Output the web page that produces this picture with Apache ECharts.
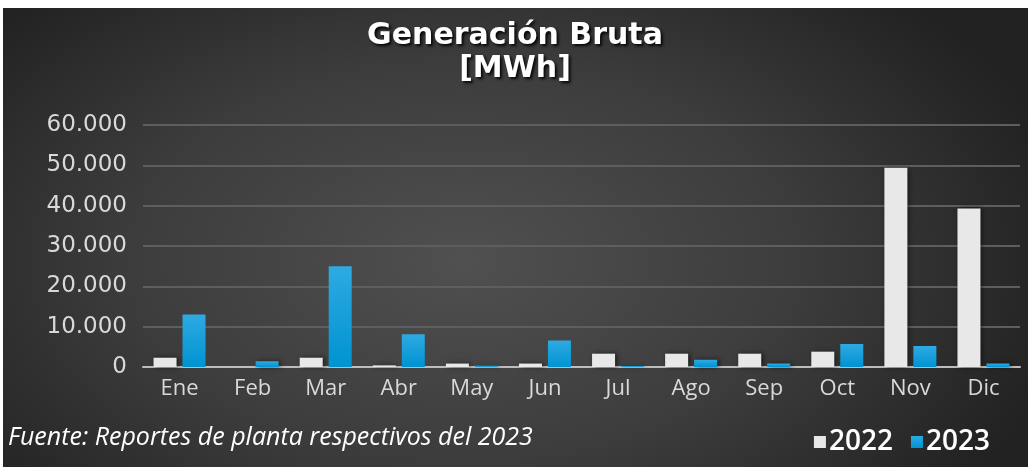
<!DOCTYPE html>
<html>
<head>
<meta charset="utf-8">
<script src="https://cdn.jsdelivr.net/npm/echarts@6/dist/echarts.min.js"></script>
<style>
  html, body { margin: 0; padding: 0; background: #ffffff; }
  #bg {
    position: absolute; left: 3px; top: 8px; width: 1025px; height: 459px;
    background: radial-gradient(ellipse 60% 80% at 45% 55%, #505050 0%, #3c3c3c 55%, #222222 100%);
  }
  #Gen_Chart { position: absolute; left: 0; top: 0; width: 1030px; height: 467px; }
</style>
</head>
<body>
<div id="bg"></div>
<div id="Gen_Chart"></div>
<script>
  // 데이터
  var months = ['Ene', 'Feb', 'Mar', 'Abr', 'May', 'Jun', 'Jul', 'Ago', 'Sep', 'Oct', 'Nov', 'Dic'];
  var gen2022 = [2300, 0, 2300, 400, 850, 850, 3300, 3300, 3300, 3800, 49400, 39300];
  var gen2023 = [13000, 1400, 25000, 8100, 300, 6600, 250, 1800, 850, 5700, 5200, 850];
  var yTicks = [0, 10000, 20000, 30000, 40000, 50000, 60000];

  // 천 단위 구분 (점)
  function fmtNum(v) {
    return String(v).replace(/\B(?=(\d{3})+(?!\d))/g, '.');
  }

  function GenBrutaChart() {
    var dom = document.getElementById('Gen_Chart');
    var myChart = echarts.init(dom, null, {
      renderer: 'canvas',
      useDirtyRect: false
    });
    var option = {
      backgroundColor: 'transparent',
      title: {
        text: 'Generación Bruta\n[MWh]',
        left: 'center',
        top: 15,
        textStyle: {
          color: '#ffffff',
          fontFamily: 'DejaVu Sans',
          fontWeight: 'bold',
          fontSize: 30,
          lineHeight: 33,
          textShadowColor: 'rgba(0,0,0,0.9)',
          textShadowBlur: 3,
          textShadowOffsetX: 2,
          textShadowOffsetY: 2
        }
      },
      legend: {
        data: ['2022', '2023'],
        right: 35,
        top: 423,
        icon: 'rect',
        itemWidth: 12,
        itemHeight: 12,
        itemGap: 18,
        textStyle: {
          color: '#ffffff',
          fontFamily: 'Open Sans',
          fontWeight: 600,
          fontSize: 28,
          padding: [0, 0, 0, -2]
        }
      },
      grid: {
        top: 125, // 상단 여백
        bottom: 100, // 하단 여백
        left: 143, // 좌측 여백
        right: 10 // 우측 여백
      },
      xAxis: {
        type: 'category',
        data: months,
        axisLine: { lineStyle: { color: '#bdbdbd', width: 2 } },
        axisTick: { show: false },
        axisLabel: {
          color: '#d9d9d9',
          fontFamily: 'Open Sans',
          fontSize: 22,
          margin: 11
        }
      },
      yAxis: {
        type: 'value',
        min: yTicks[0],
        max: yTicks[yTicks.length - 1],
        interval: 10000,
        axisLine: { show: false },
        axisTick: { show: false },
        splitLine: { lineStyle: { color: '#5e5e5e', width: 2 } },
        axisLabel: {
          color: '#d9d9d9',
          fontFamily: 'DejaVu Sans',
          fontSize: 23,
          margin: 16,
          formatter: function (v) { return fmtNum(v); }
        }
      },
      series: [{
          name: '2022',
          type: 'bar',
          data: gen2022,
          barWidth: 23,
          barGap: '26%',
          itemStyle: {
            color: '#e8e8e8',
            shadowColor: 'rgba(0,0,0,0.6)',
            shadowBlur: 5,
            shadowOffsetX: 2
          }
        },
        {
          name: '2023',
          type: 'bar',
          data: gen2023,
          barWidth: 23,
          itemStyle: {
            color: new echarts.graphic.LinearGradient(0, 0, 0, 1, [
              { offset: 0, color: '#2eaae2' },
              { offset: 1, color: '#0093d2' }
            ]),
            shadowColor: 'rgba(0,0,0,0.6)',
            shadowBlur: 5,
            shadowOffsetX: 2
          }
        }
      ],
      graphic: [{
        type: 'text',
        left: 8,
        top: 425,
        style: {
          text: 'Fuente: Reportes de planta respectivos del 2023',
          fill: '#ffffff',
          font: 'italic 25px "Open Sans"'
        }
      }]
    };
    if (option && typeof option === 'object') {
      myChart.setOption(option);
    }
    window.addEventListener('resize', myChart.resize);
  }

  GenBrutaChart();
</script>
</body>
</html>
